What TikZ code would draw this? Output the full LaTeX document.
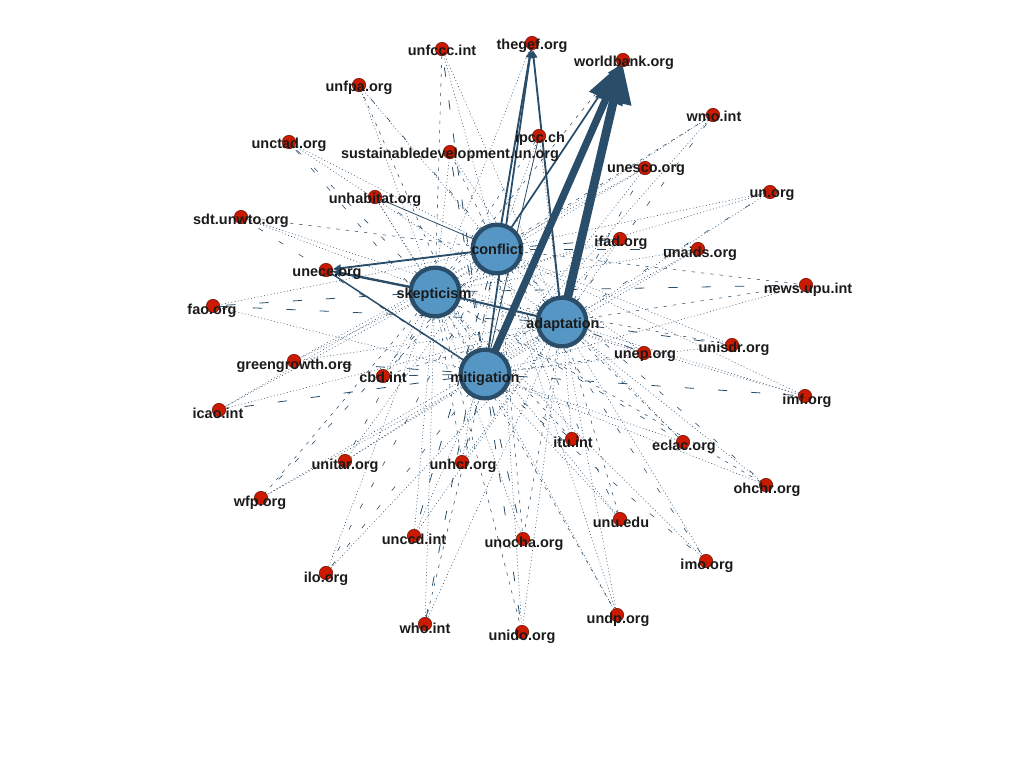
\documentclass[tikz,border=0pt]{standalone}
\usepackage{fontspec}
\setmainfont{Liberation Sans}
\usetikzlibrary{arrows.meta,backgrounds}
\definecolor{edgeblue}{HTML}{2A4D69}
\definecolor{hubblue}{HTML}{5596C4}
\definecolor{domred}{HTML}{CC1A00}
\definecolor{domline}{HTML}{7A1A10}
\definecolor{labelink}{HTML}{1A1A1A}
\tikzset{
  hub/.style={circle,draw=edgeblue,fill=hubblue,line width=3.2pt,minimum size=36.5pt,inner sep=0pt},
  dom/.style={circle,draw=domline,fill=domred,line width=0.5pt,minimum size=10pt,inner sep=0pt},
  lab/.style={font=\bfseries\fontsize{10.85pt}{12pt}\selectfont,text=labelink,inner sep=0pt,anchor=center,yshift=-1.3pt},
  dt/.style={edgeblue,line width=0.4pt,dash pattern=on 0.7pt off 1.8pt},
  ds/.style={edgeblue,line width=0.4pt,dash pattern=on 2.5pt off 4.5pt},
  ld/.style={edgeblue,line width=0.6pt,dash pattern=on 7pt off 18pt},
  sp/.style={edgeblue,line width=0.45pt,dash pattern=on 4pt off 14pt},
  sl/.style={edgeblue,line width=0.6pt},
  no/.style={draw=none},
  heavy/.style={edgeblue,line width=#1},
}
\def\domains{%
a/442/49/442/49/unfccc.int/dt/ds/dt/ld,%
b/532/43/532/44/thegef.org/no/dt/no/no,%
c/623/60/624/61/worldbank.org/no/ds/no/no,%
d/359/85/359/86/unfpa.org/dt/dt/sp/ds,%
e/713/115/714/115/wmo.int/ds/dt/sp/dt,%
f/289/142/289/143/unctad.org/dt/sp/dt/sp,%
g/539/136/540/137/ipcc.ch/dt/ds/dt/sl,%
h/450/152/450/153/sustainabledevelopment.un.org/ds/dt/dt/ld,%
i/645/168/646/168/unesco.org/dt/dt/sp/dt,%
j/770/192/772/193/un.org/dt/dt/sp/dt,%
k/375/197/375/198/unhabitat.org/sl/dt/sp/dt,%
l/241/217/241/219/sdt.unwto.org/ds/dt/dt/sp,%
m/620/239/621/241/ifad.org/ld/dt/dt/dt,%
n/698/249/700/252/unaids.org/ld/dt/dt/dt,%
p/213/306/212/309/fao.org/dt/ld/ld/dt,%
q/806/285/808/288/news.upu.int/ds/ld/ds/dt,%
r/732/345/734/347/unisdr.org/dt/ds/ld/dt,%
s/644/353/645/354/unep.org/dt/dt/ld/ds,%
t/294/361/294/364/greengrowth.org/dt/dt/dt/ld,%
u/383/376/383/376/cbd.int/ds/dt/ds/ld,%
v/805/396/807/399/imf.org/dt/dt/dt/ld,%
w/219/410/218/412/icao.int/dt/dt/dt/ld,%
x/572/439/573/441/itu.int/dt/ds/dt/sp,%
y/683/442/684/445/eclac.org/dt/sp/ds/dt,%
z/345/461/345/464/unitar.org/dt/sp/dt/dt,%
aa/462/462/463/464/unhcr.org/dt/ds/dt/ld,%
ab/766/485/767/488/ohchr.org/sp/ds/dt/dt,%
ac/261/498/260/501/wfp.org/sp/ds/dt/dt,%
ad/620/519/621/521/unu.edu/sp/dt/ds/dt,%
ae/523/539/524/542/unocha.org/ds/dt/ds/ld,%
af/414/536/414/538/unccd.int/ld/dt/dt/dt,%
ag/326/573/326/577/ilo.org/sp/dt/dt/sp,%
ah/706/561/707/564/imo.org/sp/dt/dt/sp,%
ai/617/615/618/618/undp.org/dt/ds/dt/dt,%
aj/425/624/425/627/who.int/ld/dt/dt/ds,%
ak/522/632/522/635/unido.org/dt/ds/dt/ld%
}
\begin{document}
\begin{tikzpicture}[x=0.75pt,y=-0.75pt]
\useasboundingbox (0,0) rectangle (1024,768);
% hubs
\node[hub] (conflict) at (497,249) {};
\node[hub] (skepticism) at (435,292) {};
\node[hub] (adaptation) at (562,322) {};
\node[hub] (mitigation) at (485,374) {};
% domains
\foreach \i/\x/\y/\lx/\ly/\t/\sc/\ss/\sa/\sm in \domains {
  \node[dom] (\i) at (\x,\y) {};
}
\node[dom] (o) at (326,270) {};
% connectors
\begin{pgfonlayer}{background}
\foreach \i/\x/\y/\lx/\ly/\t/\sc/\ss/\sa/\sm in \domains {
  \draw[\sc] (conflict.center) -- (\i.center);
  \draw[\ss] (skepticism.center) -- (\i.center);
  \draw[\sa] (adaptation.center) -- (\i.center);
  \draw[\sm] (mitigation.center) -- (\i.center);
}
\draw[heavy=1.4pt,-{Triangle[length=6pt,width=5.5pt]}] (conflict.center) -- (b);
\draw[heavy=1.3pt] (mitigation.center) -- (b);
\draw[heavy=1.4pt,-{Triangle[length=6pt,width=5.5pt]}] (adaptation.center) -- (b);
\draw[heavy=1.4pt,-{Triangle[length=6pt,width=5.5pt]}] (conflict.center) -- (o);
\draw[heavy=1.8pt,-{Triangle[length=6pt,width=5.5pt]}] (skepticism.center) -- (o);
\draw[heavy=1.5pt] (adaptation.center) -- (skepticism.center);
\draw[heavy=1.1pt] (mitigation.center) -- (o);
\draw[heavy=1.3pt,-{Triangle[length=9pt,width=8pt]}] (conflict.center) -- (c);
\draw[heavy=5.5pt,shorten >=2pt,-{Triangle[length=30pt,width=26pt]}] (mitigation.center) -- (c.center);
\draw[heavy=6.5pt,shorten >=2pt,-{Triangle[length=30pt,width=26pt]}] (adaptation.center) -- (c.center);
\end{pgfonlayer}
% labels
\foreach \i/\x/\y/\lx/\ly/\t/\sc/\ss/\sa/\sm in \domains {
  \node[lab] (\i-text) at (\lx,\ly) {\t};
}
\node[lab] (o-text) at (327,272) {unece.org};
\node[lab] (conflict-text) at (497,248) {conflict};
\node[lab] (skepticism-text) at (434,293) {skepticism};
\node[lab] (adaptation-text) at (563,323) {adaptation};
\node[lab] (mitigation-text) at (485,377) {mitigation};
\end{tikzpicture}
\end{document}
